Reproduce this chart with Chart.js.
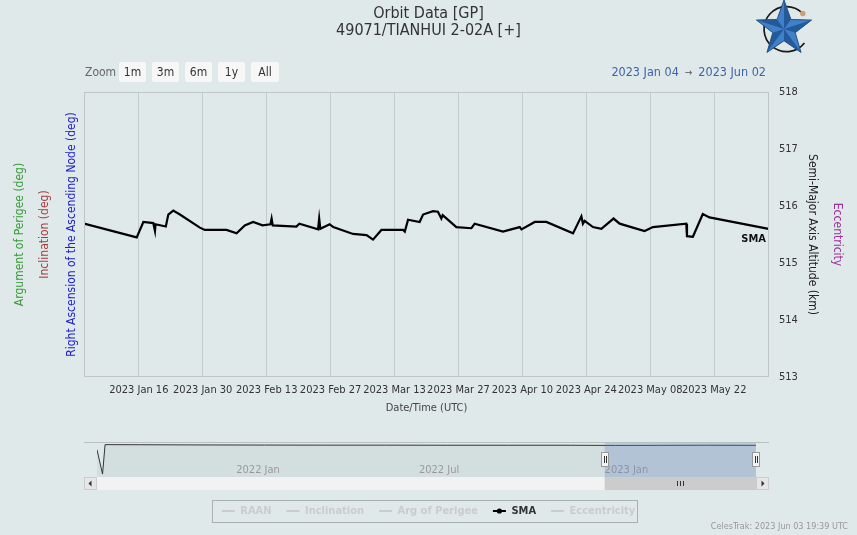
<!DOCTYPE html>
<html>
<head>
<meta charset="utf-8">
<script src="https://cdn.jsdelivr.net/npm/chart.js@4.4.0/dist/chart.umd.min.js"></script>
<style>
html,body{margin:0;padding:0;background:#dfe9e9;}
#wrap{position:relative;width:857px;height:535px;overflow:hidden;font-family:'DejaVu Sans Condensed','DejaVu Sans',sans-serif;}
#main{position:absolute;left:0;top:0;}
#nav{position:absolute;left:84px;top:440px;}
.btn{position:absolute;top:62px;height:20px;line-height:20px;background:#f7f7f7;color:#333;font-size:12px;text-align:center;border-radius:2px;}
#zoomlbl{position:absolute;left:85px;top:62px;height:20px;line-height:20px;color:#666;font-size:12px;}
#range{position:absolute;right:91px;top:62px;height:20px;line-height:20px;color:#3d64a8;font-size:12.5px;white-space:nowrap;}
#range .arr{font-size:10px;color:#555;padding:0 6px;}
#credits{position:absolute;right:9px;top:521px;color:#999;font-size:9px;white-space:nowrap;}
#logo{position:absolute;left:755px;top:0px;}
</style>
</head>
<body>
<div id="wrap">
  <canvas id="main" width="857" height="535"></canvas>
  <canvas id="nav" width="685" height="52"></canvas>
  <div id="zoomlbl">Zoom</div>
  <div class="btn" style="left:119px;width:27px">1m</div>
  <div class="btn" style="left:152px;width:27px">3m</div>
  <div class="btn" style="left:185px;width:27px">6m</div>
  <div class="btn" style="left:218px;width:27px">1y</div>
  <div class="btn" style="left:251px;width:28px">All</div>
  <div id="range">2023 Jan 04<span class="arr">→</span>2023 Jun 02</div>
  <svg id="logo" width="58" height="58" viewBox="0 0 54 54">
    <path d="M 44 12 A 21 21 0 1 0 46 40" fill="none" stroke="#1a1a1a" stroke-width="1.6"/>
    <polygon points="27,0 33.47,18.1 52.68,18.66 37.46,30.4 42.87,48.84 27,38 11.13,48.84 16.54,30.4 1.32,18.66 20.53,18.1" fill="#3f80c8" stroke="#1d3f6e" stroke-width="0.8"/>
    <polygon points="27,27 27,0 33.47,18.1" fill="#245a99"/>
    <polygon points="27,27 52.68,18.66 37.46,30.4" fill="#245a99"/>
    <polygon points="27,27 42.87,48.84 27,38" fill="#245a99"/>
    <polygon points="27,27 11.13,48.84 16.54,30.4" fill="#245a99"/>
    <polygon points="27,27 1.32,18.66 20.53,18.1" fill="#245a99"/>
    <circle cx="44.5" cy="12.5" r="2.6" fill="#c9a27a"/>
  </svg>
  <div id="credits">CelesTrak: 2023 Jun 03 19:39 UTC</div>
</div>
<script>
// ---------- data ----------
const smaDates = [
  "2023-01-04T00:00","2023-01-15T13:00","2023-01-17T00:00","2023-01-19T04:00","2023-01-19T13:00",
  "2023-01-19T16:00","2023-01-21T22:00","2023-01-22T11:00","2023-01-23T13:00","2023-01-25T00:00",
  "2023-01-29T09:00","2023-01-30T11:00","2023-02-04T05:00","2023-02-06T10:00","2023-02-08T05:00",
  "2023-02-10T01:00","2023-02-12T02:00","2023-02-13T20:00","2023-02-14T02:00","2023-02-14T08:00",
  "2023-02-19T12:00","2023-02-20T04:00","2023-02-24T06:00","2023-02-24T12:00","2023-02-24T18:00",
  "2023-02-26T19:00","2023-02-27T14:00","2023-03-03T22:00","2023-03-06T21:00","2023-03-08T07:00",
  "2023-03-10T03:00","2023-03-14T21:00","2023-03-15T06:00","2023-03-15T23:00","2023-03-18T12:00",
  "2023-03-19T06:00","2023-03-21T10:00","2023-03-22T12:00","2023-03-23T06:00","2023-03-23T13:00",
  "2023-03-26T13:00","2023-03-29T20:00","2023-03-30T13:00","2023-04-05T18:00","2023-04-09T10:00",
  "2023-04-09T19:00","2023-04-12T17:00","2023-04-15T06:00","2023-04-21T02:00","2023-04-22T22:00",
  "2023-04-23T06:00","2023-04-23T15:00","2023-04-25T11:00","2023-04-27T07:00","2023-04-29T23:00",
  "2023-05-01T07:00","2023-05-03T20:00","2023-05-06T18:00","2023-05-08T14:00","2023-05-15T21:00",
  "2023-05-16T01:00","2023-05-17T08:00","2023-05-19T12:00","2023-05-20T23:00","2023-06-02T22:00"
];
const smaValues = [
  515.69,515.45,515.72,515.70,515.56,
  515.68,515.64,515.85,515.92,515.85,
  515.62,515.58,515.58,515.52,515.66,
  515.72,515.66,515.68,515.78,515.66,
  515.64,515.69,515.59,515.78,515.60,
  515.68,515.63,515.51,515.49,515.41,
  515.58,515.58,515.55,515.76,515.72,
  515.85,515.91,515.90,515.78,515.84,
  515.63,515.61,515.69,515.55,515.63,
  515.59,515.72,515.72,515.52,515.82,
  515.69,515.74,515.63,515.60,515.78,
  515.69,515.63,515.56,515.63,515.69,
  515.47,515.46,515.86,515.80,515.60
];
const xTickDates = ["2023-01-16T00:00","2023-01-30T00:00","2023-02-13T00:00","2023-02-27T00:00","2023-03-13T00:00",
                    "2023-03-27T00:00","2023-04-10T00:00","2023-04-24T00:00","2023-05-08T00:00","2023-05-22T00:00"];
const xTickLabels = ["2023 Jan 16","2023 Jan 30","2023 Feb 13","2023 Feb 27","2023 Mar 13",
                     "2023 Mar 27","2023 Apr 10","2023 Apr 24","2023 May 08","2023 May 22"];
const rangeStart = "2023-01-04T00:00";
const rangeEnd = "2023-06-03T00:00";
const smaMin = 513, smaMax = 518;

const navDates = ["2021-08-19T00:00","2021-08-24T12:00","2021-08-27T00:00","2021-10-01T00:00","2021-12-01T00:00",
                  "2022-02-01T00:00","2022-04-01T00:00","2022-06-01T00:00","2022-08-01T00:00","2022-10-01T00:00",
                  "2022-12-01T00:00","2023-01-15T00:00","2023-03-01T00:00","2023-04-15T00:00","2023-06-02T22:00"];
const navValues = [511.0,486.0,516.3,516.2,516.0,515.9,515.8,515.8,515.7,515.7,515.7,515.5,515.6,515.7,515.6];
const navStart = "2021-08-19T00:00";
const navTickDates = ["2022-01-01T00:00","2022-07-01T00:00","2023-01-01T00:00"];
const navTickLabels = ["2022 Jan","2022 Jul","2023 Jan"];

const seriesNames = ["RAAN","Inclination","Arg of Perigee","SMA","Eccentricity"];

// ---------- chart ----------
const fam = "'DejaVu Sans Condensed','DejaVu Sans',sans-serif";
Chart.defaults.font.family = fam;
Chart.defaults.color = '#333';
const T = s => Date.parse(s + 'Z');
const smaPoints = smaDates.map((d, i) => ({x: T(d), y: smaValues[i]}));
const navPoints = navDates.map((d, i) => ({x: T(d), y: navValues[i]}));

const dummyAxis = (pos, weight, width, text, color, pad) => ({
  type: 'linear', position: pos, weight: weight, display: true,
  ticks: {display: false}, grid: {display: false, drawTicks: false}, border: {display: false},
  afterFit: s => { s.width = width; },
  title: {display: true, text: text, color: color, font: {size: 12}, padding: {top: pad, bottom: 0}}
});

const mainDeco = {
  id: 'mainDeco',
  afterDraw(chart) {
    const ctx = chart.ctx, a = chart.chartArea;
    ctx.save();
    ctx.strokeStyle = '#c0c6c6';
    ctx.lineWidth = 1;
    ctx.strokeRect(a.left + 0.5, a.top + 0.5, a.right - a.left - 1, a.bottom - a.top - 1);
    // data label at end of SMA series
    const xs = chart.scales.x, ys = chart.scales.y;
    const lp = smaPoints[smaPoints.length - 1];
    const px = xs.getPixelForValue(lp.x), py = ys.getPixelForValue(lp.y);
    ctx.font = 'bold 11px ' + fam;
    ctx.fillStyle = '#111';
    ctx.textAlign = 'center';
    ctx.textBaseline = 'middle';
    ctx.fillText('SMA', px - 15, py + 10);
    // legend frame + marker
    const hb = chart.legend.legendHitBoxes;
    if (hb && hb.length) {
      let l = Infinity, r = -Infinity;
      hb.forEach(b => { l = Math.min(l, b.left); r = Math.max(r, b.left + b.width); });
      const cy = hb[0].top + hb[0].height / 2;
      ctx.strokeStyle = '#a9b0b0';
      ctx.strokeRect(Math.round(l - 10) + 0.5, Math.round(cy - 11) + 0.5, Math.round(r - l + 12), 22);
      const s = hb[3];
      ctx.fillStyle = '#000';
      ctx.beginPath();
      ctx.arc(s.left + 6.5, cy, 2.6, 0, Math.PI * 2);
      ctx.fill();
    }
    ctx.restore();
  }
};

new Chart(document.getElementById('main'), {
  type: 'line',
  data: {
    datasets: [
      {label: seriesNames[0], data: [], yAxisID: 'yRaan', hidden: true, borderColor: '#0000cc'},
      {label: seriesNames[1], data: [], yAxisID: 'yInc', hidden: true, borderColor: '#aa3333'},
      {label: seriesNames[2], data: [], yAxisID: 'yAop', hidden: true, borderColor: '#339933'},
      {label: seriesNames[3], data: smaPoints, yAxisID: 'y', borderColor: '#000', backgroundColor: '#000',
       borderWidth: 2.2, pointRadius: 0, tension: 0},
      {label: seriesNames[4], data: [], yAxisID: 'yEcc', hidden: true, borderColor: '#993399'}
    ]
  },
  options: {
    responsive: false, animation: false, events: [],
    layout: {padding: {left: 0, right: 0, top: 0, bottom: 8.5}},
    plugins: {
      tooltip: {enabled: false},
      title: {display: true, text: ['Orbit Data [GP]', '49071/TIANHUI 2-02A [+]'], color: '#333',
              font: {size: 16, weight: 'normal', lineHeight: '17px'}, padding: {top: 5, bottom: 53}},
      legend: {
        position: 'bottom', align: 'center',
        labels: {
          boxWidth: 13, boxHeight: 2, padding: 15, font: {size: 11, weight: 'bold'},
          generateLabels: chart => chart.data.datasets.map((ds, i) => {
            const on = !ds.hidden;
            return {text: ds.label, fillStyle: on ? '#000' : '#cccccc', strokeStyle: on ? '#000' : '#cccccc',
                    lineWidth: 0, fontColor: on ? '#333' : '#cccccc', hidden: false, datasetIndex: i};
          })
        }
      }
    },
    scales: {
      x: {
        type: 'linear', position: 'bottom', min: T(rangeStart), max: T(rangeEnd),
        afterBuildTicks: s => { s.ticks = xTickDates.map(d => ({value: T(d)})); },
        afterFit: s => { s.height = 113.5; },
        ticks: {autoSkip: false, maxRotation: 0, minRotation: 0, padding: 7, color: '#333', font: {size: 11},
                callback: (v, i) => xTickLabels[i]},
        grid: {color: 'rgba(0,0,0,0.12)', drawTicks: false}, border: {display: false},
        title: {display: true, text: 'Date/Time (UTC)', color: '#444', font: {size: 11}, padding: {top: 0, bottom: 76}}
      },
      y: {
        type: 'linear', position: 'right', weight: 1, min: smaMin, max: smaMax,
        ticks: {stepSize: 1, padding: 10, color: '#333', font: {size: 11}},
        grid: {display: false, drawTicks: false}, border: {display: false},
        afterFit: s => { s.width = 57; },
        title: {display: true, text: 'Semi-Major Axis Altitude (km)', color: '#222', font: {size: 12}, padding: {top: 7, bottom: 0}}
      },
      yEcc: dummyAxis('right', 2, 31, 'Eccentricity', '#993399', 13),
      yRaan: dummyAxis('left', 1, 26, 'Right Ascension of the Ascending Node (deg)', '#2020cc', 6.3),
      yInc: dummyAxis('left', 2, 26, 'Inclination (deg)', '#a63d3d', 5.8),
      yAop: dummyAxis('left', 3, 32, 'Argument of Perigee (deg)', '#3a9a3a', 12.8)
    }
  },
  plugins: [mainDeco]
});

// ---------- navigator ----------
const navDeco = {
  id: 'navDeco',
  afterDatasetsDraw(chart) {
    const ctx = chart.ctx, a = chart.chartArea, xs = chart.scales.x;
    ctx.save();
    // navigator axis labels, placed through the navigator's x scale
    ctx.font = '11px ' + fam;
    ctx.fillStyle = '#999';
    ctx.textAlign = 'left';
    ctx.textBaseline = 'middle';
    navTickDates.forEach((d, i) => {
      ctx.fillText(navTickLabels[i], xs.getPixelForValue(T(d)) + 3, a.bottom - 7);
    });
    const x0 = xs.getPixelForValue(T(rangeStart)), x1 = xs.getPixelForValue(T(rangeEnd));
    ctx.fillStyle = 'rgba(102,133,194,0.3)';
    ctx.fillRect(x0, a.top, x1 - x0, a.bottom - a.top);
    ctx.restore();
  },
  afterDraw(chart) {
    const ctx = chart.ctx, a = chart.chartArea, xs = chart.scales.x;
    const W = chart.width;
    const x0 = xs.getPixelForValue(T(rangeStart)), x1 = xs.getPixelForValue(T(rangeEnd));
    ctx.save();
    // outline
    ctx.strokeStyle = '#b8c0c0';
    ctx.lineWidth = 1;
    ctx.beginPath();
    ctx.moveTo(0, a.top - 0.5); ctx.lineTo(W, a.top - 0.5);
    ctx.stroke();
    // scrollbar
    const sy = a.bottom, sh = 13;
    ctx.fillStyle = '#f2f2f2';
    ctx.fillRect(a.left, sy, a.right - a.left, sh);
    ctx.fillStyle = '#cccccc';
    ctx.fillRect(x0, sy, x1 - x0, sh);
    ctx.strokeStyle = '#333';
    const gx = Math.round((x0 + x1) / 2);
    [-3, 0, 3].forEach(d => { ctx.beginPath(); ctx.moveTo(gx + d + 0.5, sy + 4); ctx.lineTo(gx + d + 0.5, sy + 9); ctx.stroke(); });
    [[0, a.left], [a.right, W]].forEach(([l, r], k) => {
      ctx.fillStyle = '#e6e6e6';
      ctx.fillRect(l, sy, r - l, sh);
      ctx.strokeStyle = '#cccccc';
      ctx.strokeRect(l + 0.5, sy + 0.5, r - l - 1, sh - 1);
      const cx = (l + r) / 2, cy = sy + sh / 2;
      ctx.fillStyle = '#333';
      ctx.beginPath();
      if (k === 0) { ctx.moveTo(cx - 2, cy); ctx.lineTo(cx + 1, cy - 3); ctx.lineTo(cx + 1, cy + 3); }
      else { ctx.moveTo(cx + 2, cy); ctx.lineTo(cx - 1, cy - 3); ctx.lineTo(cx - 1, cy + 3); }
      ctx.closePath(); ctx.fill();
    });
    // handles
    [x0, x1].forEach(x => {
      const hx = Math.round(x);
      ctx.fillStyle = '#f2f2f2';
      ctx.strokeStyle = '#999';
      ctx.fillRect(hx - 4, 12, 8, 15);
      ctx.strokeRect(hx - 3.5, 12.5, 7, 14);
      ctx.strokeStyle = '#333';
      [-1, 1].forEach(d => { ctx.beginPath(); ctx.moveTo(hx + d + 0.5, 16); ctx.lineTo(hx + d + 0.5, 23); ctx.stroke(); });
    });
    ctx.restore();
  }
};

new Chart(document.getElementById('nav'), {
  type: 'line',
  data: {datasets: [{data: navPoints, borderColor: '#333', borderWidth: 1, pointRadius: 0, tension: 0,
                     fill: 'start', backgroundColor: 'rgba(0,40,40,0.05)'}]},
  options: {
    responsive: false, animation: false, events: [],
    layout: {padding: {left: 13, right: 13, top: 3, bottom: 0}},
    plugins: {legend: {display: false}, title: {display: false}, tooltip: {enabled: false}},
    scales: {
      x: {
        type: 'linear', min: T(navStart), max: T(rangeEnd),
        afterBuildTicks: s => { s.ticks = navTickDates.map(d => ({value: T(d)})); },
        afterFit: s => { s.height = 15; },
        ticks: {display: false},
        grid: {display: false, drawTicks: false}, border: {display: false}
      },
      y: {display: false, min: 483, max: 518}
    }
  },
  plugins: [navDeco]
});
</script>
</body>
</html>
